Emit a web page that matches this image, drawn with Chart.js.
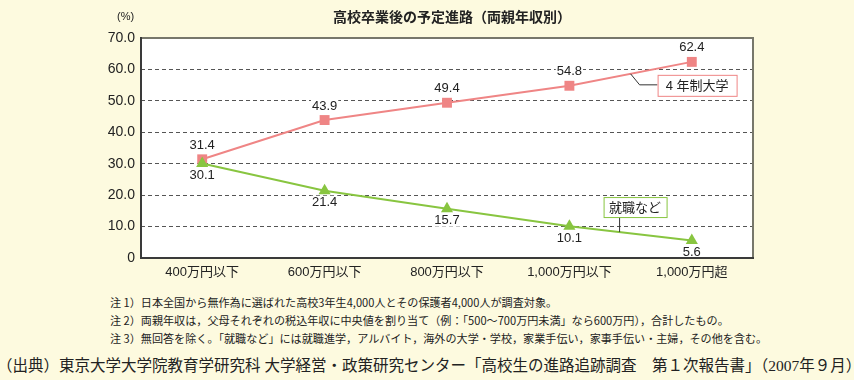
<!DOCTYPE html>
<html>
<head>
<meta charset="utf-8">
<script src="https://cdn.jsdelivr.net/npm/chart.js@4/dist/chart.umd.min.js"></script>
<style>
  body { margin: 0; background: #fdfadf; }
  #wrap { position: relative; width: 854px; height: 380px; background: #fdfadf; overflow: hidden;
    font-family: "Liberation Sans", "Noto Sans CJK JP", sans-serif; color: #222; }
  #chart { position: absolute; left: 0; top: 0; }
  .title { position: absolute; left: 252px; top: 6px; width: 400px; text-align: center;
    font-size: 14px; font-weight: bold; font-family: "Noto Sans CJK JP", sans-serif; }
  .unit { position: absolute; left: 117px; top: 10px; font-size: 11px; }
  .note { position: absolute; left: 110px; font-size: 11.1px; white-space: nowrap;
    font-family: "Noto Sans CJK JP", sans-serif; }
  .src { position: absolute; left: -3px; top: 353px; font-size: 15.5px; white-space: nowrap;
    font-family: "Liberation Serif", "Noto Sans CJK JP", serif; }
</style>
</head>
<body>
<div id="wrap">
  <canvas id="chart" width="854" height="290"></canvas>
  <div class="title">高校卒業後の予定進路（両親年収別）</div>
  <div class="unit">(%)</div>
  <div class="note" style="top:294px">注 1）日本全国から無作為に選ばれた高校3年生4,000人とその保護者4,000人が調査対象。</div>
  <div class="note" style="top:312px">注 2）両親年収は，父母それぞれの税込年収に中央値を割り当て（例：「500～700万円未満」なら600万円），合計したもの。</div>
  <div class="note" style="top:330px">注 3）無回答を除く。「就職など」には就職進学，アルバイト，海外の大学・学校，家業手伝い，家事手伝い・主婦，その他を含む。</div>
  <div class="src">（出典）東京大学大学院教育学研究科 大学経営・政策研究センター「高校生の進路追跡調査　第１次報告書」（2007年９月）</div>
</div>
<script>
const incomeLabels = ["400万円以下", "600万円以下", "800万円以下", "1,000万円以下", "1,000万円超"];
const univValues = [31.4, 43.9, 49.4, 54.8, 62.4];
const jobValues = [30.1, 21.4, 15.7, 10.1, 5.6];
const univName = "4 年制大学";
const jobName = "就職など";

const pink = "#ef8585";
const green = "#88c540";
const fontFam = '"Liberation Sans", "Noto Sans CJK JP", sans-serif';

// white plot area + frame
const framePlugin = {
  id: "frame",
  beforeDraw: (chart) => {
    const a = chart.chartArea;
    const ctx = chart.ctx;
    ctx.save();
    ctx.fillStyle = "#ffffff";
    ctx.fillRect(a.left, a.top, a.right - a.left, a.bottom - a.top);
    ctx.restore();
  },
  afterDraw: (chart) => {
    const a = chart.chartArea;
    const ctx = chart.ctx;
    ctx.save();
    ctx.lineWidth = 2;
    ctx.strokeStyle = "#77776b";
    ctx.beginPath();
    ctx.moveTo(a.left, a.top);
    ctx.lineTo(a.right, a.top);
    ctx.lineTo(a.right, a.bottom);
    ctx.stroke();
    ctx.strokeStyle = "#3a3a3a";
    ctx.beginPath();
    ctx.moveTo(a.left, a.top - 1);
    ctx.lineTo(a.left, a.bottom);
    ctx.lineTo(a.right + 1, a.bottom);
    ctx.stroke();
    ctx.restore();
  },
};

// value labels on white: univ above, job below
const valuePlugin = {
  id: "values",
  beforeDatasetsDraw: (chart) => {
    const ctx = chart.ctx;
    ctx.save();
    ctx.font = "13px " + fontFam;
    ctx.fillStyle = "#fff";
    chart.data.datasets.forEach((ds, i) => {
      const meta = chart.getDatasetMeta(i);
      meta.data.forEach((pt, j) => {
        const off = ds.label === univName ? -14 : 12;
        const w = ctx.measureText(ds.data[j].toFixed(1)).width + 2;
        ctx.fillRect(pt.x - w / 2, pt.y + off - 7, w, 13);
      });
    });
    ctx.restore();
  },
  afterDatasetsDraw: (chart) => {
    const ctx = chart.ctx;
    ctx.save();
    ctx.font = "13px " + fontFam;
    ctx.fillStyle = "#222";
    ctx.textAlign = "center";
    ctx.textBaseline = "middle";
    chart.data.datasets.forEach((ds, i) => {
      const meta = chart.getDatasetMeta(i);
      meta.data.forEach((pt, j) => {
        const off = ds.label === univName ? -14 : 12;
        ctx.fillText(ds.data[j].toFixed(1), pt.x, pt.y + off);
      });
    });
    ctx.restore();
  },
};

// callout boxes with leader lines
const lineY = (chart, values, pos) => {
  const y = chart.scales.y;
  const i = Math.floor(pos);
  const t = pos - i;
  return y.getPixelForValue(values[i] + (values[i + 1] - values[i]) * t);
};

const calloutPlugin = {
  id: "callouts",
  afterDatasetsDraw: (chart) => {
    const ctx = chart.ctx;
    const x = chart.scales.x;
    ctx.save();
    ctx.font = "13px " + fontFam;
    ctx.textAlign = "center";
    ctx.textBaseline = "middle";
    ctx.lineWidth = 1;

    // 4年制大学
    let ax = x.getPixelForValue(3.5);
    let ay = lineY(chart, univValues, 3.5);
    ctx.strokeStyle = "#333";
    ctx.beginPath();
    ctx.moveTo(ax, ay);
    ctx.lineTo(ax + 9, ay + 11);
    ctx.lineTo(ax + 27, ay + 11);
    ctx.stroke();
    let bx = ax + 27, by = ay + 1, bw = 79, bh = 21;
    ctx.fillStyle = "#fff";
    ctx.fillRect(bx, by, bw, bh);
    ctx.strokeStyle = pink;
    ctx.strokeRect(bx + 0.5, by + 0.5, bw, bh);
    ctx.fillStyle = "#222";
    ctx.fillText(univName, bx + bw / 2, by + bh / 2 + 1);

    // 就職など
    ax = x.getPixelForValue(3.41);
    ay = lineY(chart, jobValues, 3.41);
    ctx.strokeStyle = "#333";
    ctx.beginPath();
    ctx.moveTo(ax, ay);
    ctx.lineTo(ax, ay - 15);
    ctx.stroke();
    bw = 63; bh = 20;
    bx = ax - 16; by = ay - 15 - bh;
    ctx.fillStyle = "#fff";
    ctx.fillRect(bx, by, bw, bh);
    ctx.strokeStyle = green;
    ctx.strokeRect(bx + 0.5, by + 0.5, bw, bh);
    ctx.fillStyle = "#222";
    ctx.fillText(jobName, bx + bw / 2, by + bh / 2 + 1);
    ctx.restore();
  },
};

const config = {
  type: "line",
  data: {
    labels: incomeLabels,
    datasets: [
      {
        label: jobName,
        data: jobValues,
        borderColor: green,
        backgroundColor: green,
        borderWidth: 2,
        pointStyle: "triangle",
        pointRadius: 7,
        pointBorderWidth: 0,
      },
      {
        label: univName,
        data: univValues,
        borderColor: pink,
        backgroundColor: pink,
        borderWidth: 2,
        pointStyle: "rect",
        pointRadius: 7,
        pointBorderWidth: 0,
      },
    ],
  },
  options: {
    responsive: false,
    animation: false,
    layout: { padding: { left: 0, right: 101, top: 38, bottom: 0 } },
    plugins: {
      legend: { display: false },
      tooltip: { enabled: false },
      title: { display: false },
    },
    scales: {
      x: {
        offset: true,
        grid: { display: false, drawTicks: false },
        border: { display: false },
        ticks: { font: { size: 13, family: fontFam }, color: "#222", padding: 7 },
        afterFit: (s) => { s.height = 32; },
      },
      y: {
        min: 0,
        max: 70,
        grid: {
          drawTicks: false,
          color: (c) => (c.tick && (c.tick.value === 0 || c.tick.value === 70) ? "rgba(0,0,0,0)" : "#555"),
        },
        border: { display: false, dash: [4, 3] },
        ticks: {
          stepSize: 10,
          padding: 6,
          color: "#222",
          font: { size: 14, family: fontFam },
          callback: (v) => (v === 0 ? "0" : v.toFixed(1)),
        },
        afterFit: (s) => { s.width = 141; },
      },
    },
  },
  plugins: [framePlugin, valuePlugin, calloutPlugin],
};

new Chart(document.getElementById("chart").getContext("2d"), config);
</script>
</body>
</html>
